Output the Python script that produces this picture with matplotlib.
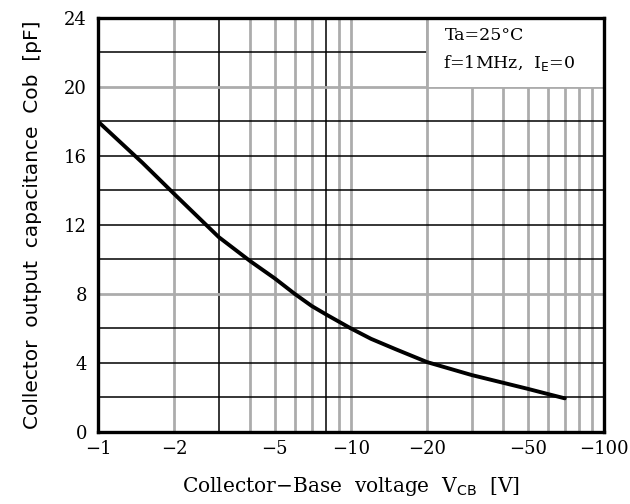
import matplotlib.pyplot as plt
from matplotlib.patches import Rectangle

# Cob vs Vcb (magnitudes; labels shown negative)
VCB = [1, 1.5, 2, 3, 4, 5, 6, 7, 8, 10, 12, 15, 20, 30, 40, 50, 60, 70]
COB = [18.0, 15.6, 13.8, 11.3, 9.9, 8.9, 8.0, 7.3, 6.8, 6.0, 5.4, 4.8, 4.05, 3.3, 2.85, 2.5, 2.2, 1.95]

X_TICKS = [1, 2, 5, 10, 20, 50, 100]
X_LABELS = ["\u22121", "\u22122", "\u22125", "\u221210", "\u221220", "\u221250", "\u2212100"]
Y_TICKS = [0, 4, 8, 12, 16, 20, 24]

# grid lines, as in the datasheet (some black, some gray)
GRID_X_GRAY = [2, 4, 5, 6, 7, 9, 10, 20, 30, 40, 50, 60, 70, 80, 90]
GRID_X_BLACK = [3, 8]
GRID_Y_GRAY = [8, 20]
GRID_Y_BLACK = [2, 4, 6, 10, 12, 14, 16, 18, 22]

SERIF = ["DejaVu Serif"]
GRAY = "#acacac"

fig = plt.figure(figsize=(6.3, 5.04), dpi=100)
ax = fig.add_axes([0.1556, 0.1429, 0.8031, 0.8214])
ax.set_xscale("log")
ax.set_xlim(1, 100)
ax.set_ylim(0, 24)

for x in GRID_X_GRAY:
    ax.axvline(x, color=GRAY, lw=2.0, zorder=1)
for x in GRID_X_BLACK:
    ax.axvline(x, color="black", lw=1.1, zorder=1)
for y in GRID_Y_GRAY:
    ax.axhline(y, color=GRAY, lw=2.0, zorder=1)
for y in GRID_Y_BLACK:
    ax.axhline(y, color="black", lw=1.1, zorder=1)

# white box for the conditions note, covers the grid in the corner
ax.add_patch(Rectangle((20, 20), 80, 4, facecolor="white", edgecolor="none", zorder=2))
ax.plot([20, 20], [20, 24], color=GRAY, lw=2.0, zorder=2.5)
ax.text(23.5, 23.45, "Ta=25\u00b0C", fontsize=12.5, family=SERIF, va="top", zorder=3)
ax.text(23.0, 21.95, "f=1MHz,  I$_{\\rm E}$=0", fontsize=12.5, family=SERIF, va="top", zorder=3)

ax.plot(VCB, COB, color="black", lw=2.8, solid_capstyle="round", zorder=4)

ax.set_xticks(X_TICKS)
ax.set_xticklabels(X_LABELS, family=SERIF, fontsize=13)
ax.xaxis.set_minor_locator(plt.NullLocator())
ax.set_yticks(Y_TICKS)
ax.set_yticklabels([str(v) for v in Y_TICKS], family=SERIF, fontsize=13)
ax.tick_params(axis="x", length=0, pad=6)
ax.tick_params(axis="y", length=0, pad=8)

for s in ax.spines.values():
    s.set_linewidth(2.4)
    s.set_zorder(5)

ax.set_xlabel("Collector\u2212Base  voltage  V$_{\\rm CB}$  [V]", family=SERIF,
              fontsize=14.5, labelpad=12)
ax.set_ylabel("Collector  output  capacitance  Cob  [pF]", family=["DejaVu Sans"],
              fontsize=14.5, labelpad=16)

fig.savefig("out.png", dpi=100)
